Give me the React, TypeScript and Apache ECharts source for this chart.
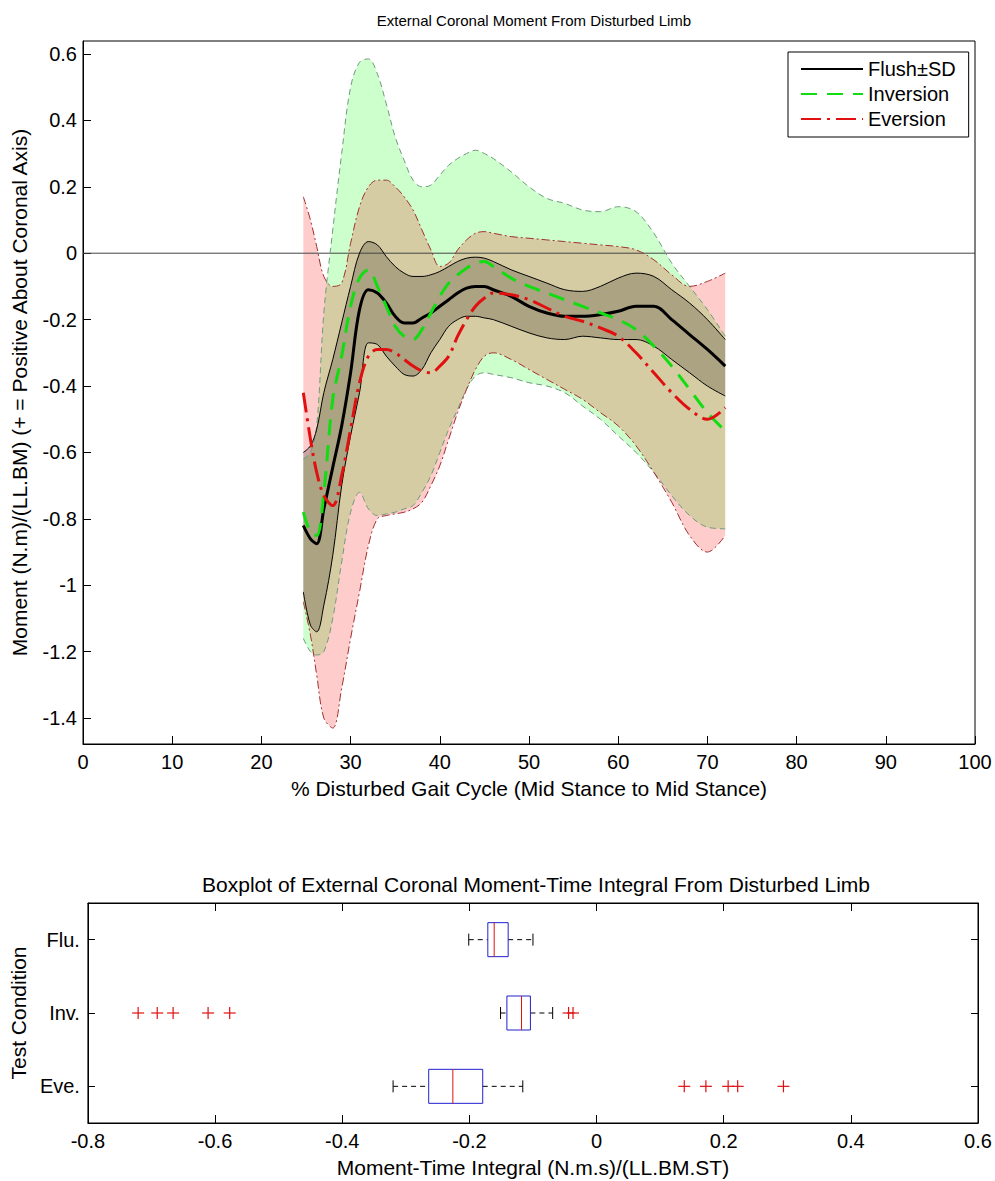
import React, { useEffect, useRef } from "react";
import * as echarts from "echarts";

// ---------------- data ----------------
const X = [24.7, 25.5, 26.2, 27, 28, 29, 30, 31, 32, 33, 34, 35, 36, 37, 38, 39, 40, 41, 42, 43, 44, 45, 46, 48, 50, 52, 54, 56, 58, 60, 62, 64, 66, 68, 70, 72];

const flushMean = [-0.82, -0.86, -0.875, -0.77, -0.645, -0.52, -0.36, -0.17, -0.11, -0.12, -0.15, -0.19, -0.21, -0.21, -0.195, -0.18, -0.16, -0.14, -0.12, -0.105, -0.1, -0.1, -0.11, -0.13, -0.16, -0.18, -0.19, -0.19, -0.185, -0.175, -0.16, -0.16, -0.2, -0.245, -0.29, -0.34];
const flushUpper = [-0.6, -0.58, -0.53, -0.42, -0.32, -0.21, -0.1, 0.0, 0.035, 0.025, -0.01, -0.04, -0.06, -0.07, -0.07, -0.065, -0.055, -0.04, -0.025, -0.015, -0.012, -0.015, -0.025, -0.05, -0.07, -0.09, -0.11, -0.115, -0.1, -0.075, -0.06, -0.07, -0.11, -0.15, -0.2, -0.26];
const flushLower = [-1.02, -1.12, -1.14, -1.06, -0.91, -0.7, -0.55, -0.42, -0.27, -0.275, -0.31, -0.34, -0.365, -0.37, -0.35, -0.3, -0.26, -0.22, -0.2, -0.19, -0.19, -0.195, -0.2, -0.22, -0.24, -0.255, -0.26, -0.25, -0.255, -0.26, -0.26, -0.28, -0.32, -0.36, -0.4, -0.43];

const invMean = [-0.78, -0.84, -0.85, -0.72, -0.44, -0.31, -0.16, -0.075, -0.05, -0.1, -0.16, -0.22, -0.25, -0.26, -0.23, -0.18, -0.13, -0.09, -0.065, -0.045, -0.03, -0.025, -0.04, -0.075, -0.1, -0.12, -0.14, -0.16, -0.18, -0.2, -0.23, -0.28, -0.34, -0.41, -0.48, -0.535];
const invUpper = [-0.62, -0.6, -0.52, -0.18, 0.07, 0.3, 0.5, 0.575, 0.585, 0.54, 0.45, 0.35, 0.28, 0.22, 0.2, 0.205, 0.235, 0.265, 0.285, 0.3, 0.31, 0.3, 0.285, 0.245, 0.2, 0.165, 0.15, 0.13, 0.125, 0.14, 0.125, 0.06, -0.03, -0.1, -0.17, -0.25];
const invLower = [-1.16, -1.2, -1.21, -1.2, -1.1, -0.93, -0.78, -0.72, -0.77, -0.79, -0.785, -0.78, -0.77, -0.76, -0.72, -0.67, -0.6, -0.53, -0.47, -0.41, -0.37, -0.36, -0.365, -0.375, -0.39, -0.4, -0.42, -0.46, -0.5, -0.55, -0.6, -0.66, -0.73, -0.79, -0.825, -0.83];

const eveMean = [-0.42, -0.56, -0.66, -0.73, -0.76, -0.67, -0.53, -0.39, -0.31, -0.29, -0.29, -0.3, -0.32, -0.34, -0.355, -0.36, -0.34, -0.31, -0.25, -0.2, -0.16, -0.135, -0.12, -0.125, -0.14, -0.165, -0.19, -0.205, -0.225, -0.25, -0.3, -0.36, -0.42, -0.47, -0.5, -0.465];
const eveUpper = [0.17, 0.1, 0.02, -0.07, -0.1, -0.09, 0.03, 0.14, 0.2, 0.22, 0.22, 0.2, 0.17, 0.13, 0.07, 0.01, -0.04, -0.03, 0.01, 0.04, 0.06, 0.065, 0.06, 0.05, 0.045, 0.04, 0.035, 0.03, 0.025, 0.02, 0.01, -0.02, -0.065, -0.1, -0.085, -0.06];
const eveLower = [-1.05, -1.15, -1.27, -1.4, -1.43, -1.31, -1.16, -1.02, -0.88, -0.8, -0.79, -0.785, -0.78, -0.77, -0.75, -0.7, -0.64, -0.56, -0.48, -0.41, -0.35, -0.31, -0.3, -0.32, -0.35, -0.38, -0.41, -0.44, -0.48, -0.52, -0.58, -0.66, -0.75, -0.85, -0.9, -0.85];

const topYTicks = [0.6, 0.4, 0.2, 0, -0.2, -0.4, -0.6, -0.8, -1, -1.2, -1.4];

const boxCategories = ["Flu.", "Inv.", "Eve."];
// [min whisker, Q1, median, Q3, max whisker]
const flushBox = [-0.201, -0.171, -0.161, -0.139, -0.1];
const invBox = [-0.151, -0.141, -0.118, -0.104, -0.069];
const eveBox = [-0.32, -0.264, -0.226, -0.179, -0.116];
const invOutliers = [-0.721, -0.691, -0.666, -0.611, -0.577, -0.044, -0.037];
const eveOutliers = [0.138, 0.172, 0.207, 0.222, 0.294];

// ---------------- styling ----------------
const FONT = "Liberation Sans, Arial, sans-serif";
const SMOOTH = 0.35;

const fmt = (v: number) => String(Math.round(v * 10) / 10);

function pairs(ys: number[]) {
  return X.map((x, i) => [x, ys[i]]);
}

function bandSeries(key: string, lower: number[], upper: number[], color: string, opacity: number) {
  return [
    {
      type: "line",
      name: key + "-base",
      stack: key,
      stackStrategy: "all",
      data: X.map((x, i) => [lower[i], x]),
      encode: { x: 1, y: 0 },
      smooth: SMOOTH,
      symbol: "none",
      lineStyle: { opacity: 0 },
      silent: true,
      z: 1,
    },
    {
      type: "line",
      name: key + "-fill",
      stack: key,
      stackStrategy: "all",
      data: X.map((x, i) => [upper[i] - lower[i], x]),
      encode: { x: 1, y: 0 },
      smooth: SMOOTH,
      symbol: "none",
      lineStyle: { opacity: 0 },
      areaStyle: { color, opacity },
      silent: true,
      z: 1,
    },
  ];
}

function boundSeries(ys: number[], color: string, width: number, type: any) {
  return {
    type: "line",
    data: pairs(ys),
    smooth: SMOOTH,
    symbol: "none",
    lineStyle: { color, width, type },
    silent: true,
    z: 3,
  };
}

const axisLineStyle = { show: true, onZero: false, lineStyle: { color: "#000" } };

export default function App() {
  const ref = useRef<HTMLDivElement>(null);

  useEffect(() => {
    if (!ref.current) return;
    const chart = echarts.init(ref.current, undefined, { renderer: "svg" });

    const boxData = [flushBox, invBox, eveBox].map((s, i) => [i, ...s]);
    const outlierData = [
      ...invOutliers.map((v) => [v, 1]),
      ...eveOutliers.map((v) => [v, 2]),
    ];

    const option: any = {
      animation: false,
      backgroundColor: "#fff",
      textStyle: { fontFamily: FONT },
      title: [
        {
          text: "External Coronal Moment From Disturbed Limb",
          left: 529,
          top: 8,
          textAlign: "center",
          textStyle: { fontFamily: FONT, fontSize: 15, fontWeight: "normal", color: "#000" },
        },
        {
          text: "Boxplot of External Coronal Moment-Time Integral From Disturbed Limb",
          left: 531,
          top: 869,
          textAlign: "center",
          textStyle: { fontFamily: FONT, fontSize: 21, fontWeight: "normal", color: "#000" },
        },
      ],
      legend: {
        data: ["Flush±SD", "Inversion", "Eversion"],
        orient: "vertical",
        left: 788,
        top: 52,
        itemWidth: 62,
        itemHeight: 18,
        itemGap: 5,
        padding: [7, 13, 8, 12],
        borderColor: "#000",
        borderWidth: 1,
        borderRadius: 0,
        backgroundColor: "#fff",
        itemStyle: { opacity: 0 },
        textStyle: { fontFamily: FONT, fontSize: 20, color: "#000" },
      },
      grid: [
        { left: 83, top: 41, width: 892, height: 703, show: true, borderColor: "#000", borderWidth: 1, backgroundColor: "transparent" },
        { left: 84, top: 903, width: 894, height: 220, show: true, borderColor: "#000", borderWidth: 1, backgroundColor: "transparent" },
      ],
      xAxis: [
        {
          gridIndex: 0,
          type: "value",
          min: 0,
          max: 100,
          interval: 10,
          axisLine: axisLineStyle,
          axisTick: { show: true, inside: true, length: 8, lineStyle: { color: "#000" } },
          axisLabel: { color: "#000", fontSize: 20, fontFamily: FONT, margin: 8 },
          splitLine: { show: false },
          name: "% Disturbed Gait Cycle (Mid Stance to Mid Stance)",
          nameLocation: "middle",
          nameGap: 34,
          nameTextStyle: { color: "#000", fontSize: 21, fontFamily: FONT },
        },
        {
          gridIndex: 1,
          type: "value",
          min: -0.8,
          max: 0.6,
          interval: 0.2,
          axisLine: axisLineStyle,
          axisTick: { show: true, inside: true, length: 8, lineStyle: { color: "#000" } },
          axisLabel: { color: "#000", fontSize: 20, fontFamily: FONT, margin: 8, formatter: fmt },
          splitLine: { show: false },
          name: "Moment-Time Integral (N.m.s)/(LL.BM.ST)",
          nameLocation: "middle",
          nameGap: 34,
          nameTextStyle: { color: "#000", fontSize: 21, fontFamily: FONT },
        },
        {
          gridIndex: 1,
          type: "value",
          position: "top",
          min: -0.8,
          max: 0.6,
          interval: 0.2,
          axisLine: axisLineStyle,
          axisTick: { show: true, inside: true, length: 8, lineStyle: { color: "#000" } },
          axisLabel: { show: false },
          splitLine: { show: false },
        },
      ],
      yAxis: [
        {
          gridIndex: 0,
          type: "value",
          min: -1.478,
          max: 0.639,
          axisLine: axisLineStyle,
          axisTick: { show: true, inside: true, length: 8, customValues: topYTicks, lineStyle: { color: "#000" } },
          axisLabel: { color: "#000", fontSize: 20, fontFamily: FONT, margin: 6, customValues: topYTicks, formatter: fmt },
          splitLine: { show: false },
          name: "Moment (N.m)/(LL.BM) (+ = Positive About Coronal Axis)",
          nameLocation: "middle",
          nameGap: 53,
          nameTextStyle: { color: "#000", fontSize: 21, fontFamily: FONT },
        },
        {
          gridIndex: 1,
          type: "category",
          data: boxCategories,
          inverse: true,
          axisLine: axisLineStyle,
          axisTick: { show: true, inside: true, alignWithLabel: true, length: 7, lineStyle: { color: "#000" } },
          axisLabel: { color: "#000", fontSize: 20, fontFamily: FONT, margin: 8 },
          splitLine: { show: false },
          name: "Test Condition",
          nameLocation: "middle",
          nameGap: 44,
          nameTextStyle: { color: "#000", fontSize: 21, fontFamily: FONT },
        },
        {
          gridIndex: 1,
          type: "category",
          data: boxCategories,
          inverse: true,
          position: "right",
          axisLine: axisLineStyle,
          axisTick: { show: true, inside: true, alignWithLabel: true, length: 7, lineStyle: { color: "#000" } },
          axisLabel: { show: false },
          splitLine: { show: false },
        },
      ],
      series: [
        ...bandSeries("inv", invLower, invUpper, "rgb(0,255,0)", 0.2),
        ...bandSeries("eve", eveLower, eveUpper, "rgb(255,0,0)", 0.2),
        ...bandSeries("flu", flushLower, flushUpper, "rgb(0,0,0)", 0.2),
        {
          type: "line",
          data: [[0, 0], [100, 0]],
          symbol: "none",
          lineStyle: { color: "#444", width: 1 },
          silent: true,
          z: 2,
        },
        boundSeries(invUpper, "#6f9a7c", 1, [6, 4]),
        boundSeries(invLower, "#6f9a7c", 1, [6, 4]),
        boundSeries(eveUpper, "#a03030", 1, [8, 3, 2, 3]),
        boundSeries(eveLower, "#a03030", 1, [8, 3, 2, 3]),
        boundSeries(flushUpper, "#000", 1, "solid"),
        boundSeries(flushLower, "#000", 1, "solid"),
        {
          name: "Flush±SD",
          type: "line",
          data: pairs(flushMean),
          smooth: SMOOTH,
          symbol: "none",
          itemStyle: { color: "#000" },
          lineStyle: { color: "#000", width: 3 },
          z: 5,
        },
        {
          name: "Inversion",
          type: "line",
          data: pairs(invMean),
          smooth: SMOOTH,
          symbol: "none",
          itemStyle: { color: "#11dd11" },
          lineStyle: { color: "#11dd11", width: 3, type: [16, 10] },
          z: 6,
        },
        {
          name: "Eversion",
          type: "line",
          data: pairs(eveMean),
          smooth: SMOOTH,
          symbol: "none",
          itemStyle: { color: "#e01010" },
          lineStyle: { color: "#e01010", width: 3, type: [20, 6, 3, 6] },
          z: 7,
        },
        {
          type: "custom",
          xAxisIndex: 1,
          yAxisIndex: 1,
          data: boxData,
          encode: { x: [1, 2, 3, 4, 5], y: 0 },
          silent: true,
          renderItem: (params: any, api: any) => {
            const c = api.value(0);
            const pLo = api.coord([api.value(1), c]);
            const pQ1 = api.coord([api.value(2), c]);
            const pMed = api.coord([api.value(3), c]);
            const pQ3 = api.coord([api.value(4), c]);
            const pHi = api.coord([api.value(5), c]);
            const y = pMed[1];
            const h = 17;
            const cap = 6;
            const dash = { stroke: "#000", lineWidth: 1, lineDash: [5, 4] };
            return {
              type: "group",
              children: [
                { type: "line", shape: { x1: pLo[0], y1: y, x2: pQ1[0], y2: y }, style: dash },
                { type: "line", shape: { x1: pQ3[0], y1: y, x2: pHi[0], y2: y }, style: dash },
                { type: "line", shape: { x1: pLo[0], y1: y - cap, x2: pLo[0], y2: y + cap }, style: { stroke: "#000", lineWidth: 1 } },
                { type: "line", shape: { x1: pHi[0], y1: y - cap, x2: pHi[0], y2: y + cap }, style: { stroke: "#000", lineWidth: 1 } },
                { type: "rect", shape: { x: pQ1[0], y: y - h, width: pQ3[0] - pQ1[0], height: 2 * h }, style: { fill: "none", stroke: "#2020d0", lineWidth: 1 } },
                { type: "line", shape: { x1: pMed[0], y1: y - h, x2: pMed[0], y2: y + h }, style: { stroke: "#e01010", lineWidth: 1 } },
              ],
            };
          },
        },
        {
          type: "custom",
          xAxisIndex: 1,
          yAxisIndex: 1,
          data: outlierData,
          encode: { x: 0, y: 1 },
          silent: true,
          renderItem: (params: any, api: any) => {
            const p = api.coord([api.value(0), api.value(1)]);
            const s = 6;
            const st = { stroke: "#e01010", lineWidth: 1.2 };
            return {
              type: "group",
              children: [
                { type: "line", shape: { x1: p[0] - s, y1: p[1], x2: p[0] + s, y2: p[1] }, style: st },
                { type: "line", shape: { x1: p[0], y1: p[1] - s, x2: p[0], y2: p[1] + s }, style: st },
              ],
            };
          },
        },
      ],
    };

    chart.setOption(option);
    return () => chart.dispose();
  }, []);

  return (
    <div
      ref={ref}
      style={{ position: "absolute", left: 0, top: 0, width: 995, height: 1181, background: "#fff" }}
    />
  );
}
